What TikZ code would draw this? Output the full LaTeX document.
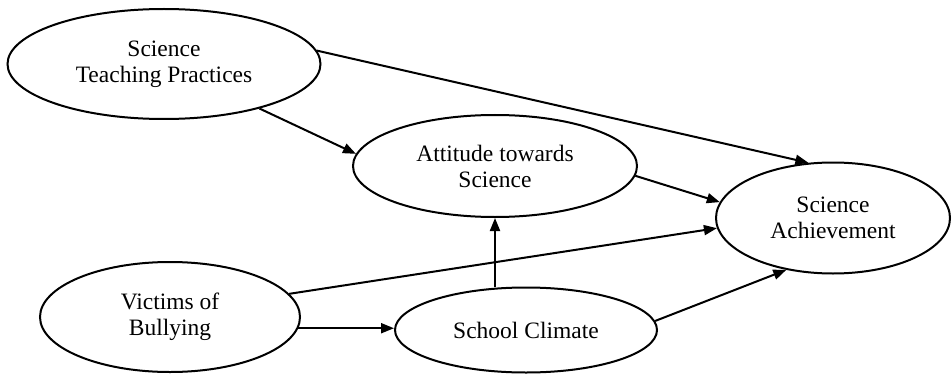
\documentclass[tikz,border=0pt]{standalone}
\usepackage{fontspec}
\setmainfont{Liberation Serif}
\usetikzlibrary{arrows.meta, shapes.geometric}

\begin{document}
\begin{tikzpicture}[
  x=0.5pt, y=-0.5pt,
  construct/.style = {ellipse, draw, line width=1pt, inner sep=0pt, align=center, font=\fontsize{11.75}{13}\selectfont},
  effect/.style = {line width=1pt, -{Triangle[length=6.5pt, width=5pt]}}
]

% Frame
\useasboundingbox (0,0) rectangle (952,374);

% Constructs
\node[construct, minimum width=156.5pt, minimum height=55pt] (teaching) at (164,64) {Science\\Teaching Practices};
\node[construct, minimum width=142pt, minimum height=51pt] (attitude) at (495,166) {Attitude towards\\Science};
\node[construct, minimum width=117pt, minimum height=55.5pt] (achievement) at (833,218) {Science\\Achievement};
\node[construct, minimum width=130pt, minimum height=55pt] (bullying) at (170,317) {Victims of\\Bullying};
\node[construct, minimum width=131pt, minimum height=42.5pt] (climate) at (526,330) {School Climate};

% Paths
\draw[effect] (teaching.5) -- (achievement.114);
\draw[effect] (teaching.335) -- (attitude.175);
\draw[effect] (attitude.356) -- (achievement.172);
\draw[effect] (bullying.11) -- (achievement.185);
\draw[effect] (bullying.355) -- (bullying.355 -| climate.west);
\draw[effect] (attitude.south |- climate.north) -- (attitude.south);
\draw[effect] (climate.4) -- (achievement.228);

\end{tikzpicture}
\end{document}
